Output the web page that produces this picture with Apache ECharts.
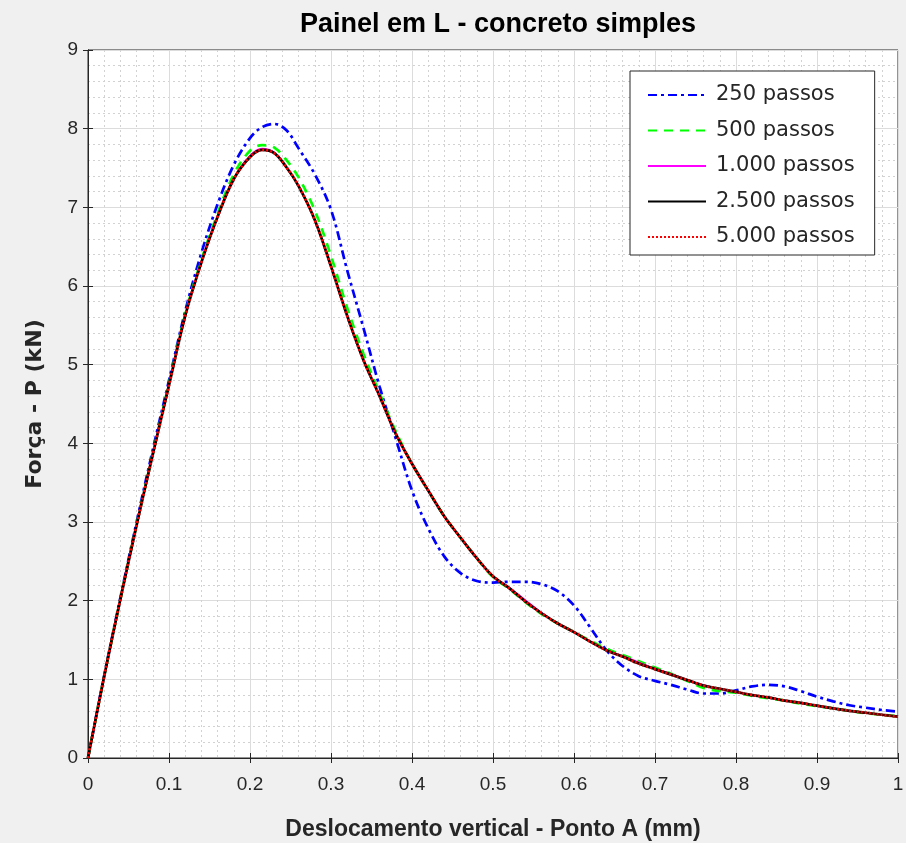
<!DOCTYPE html>
<html>
<head>
<meta charset="utf-8">
<script src="https://cdn.jsdelivr.net/npm/echarts@6/dist/echarts.min.js"></script>
<style>
html,body{margin:0;padding:0;background:#f0f0f0;overflow:hidden;}
#chart{width:906px;height:843px;}
</style>
</head>
<body>
<div id="chart"></div>
<script>
// Deslocamento (mm)
var xs = [0,0.02,0.04,0.06,0.08,0.10,0.12,0.14,0.16,0.18,0.20,0.215,0.23,0.245,0.26,0.28,0.30,0.32,0.34,0.36,0.38,0.40,0.42,0.44,0.46,0.48,0.50,0.52,0.54,0.56,0.58,0.60,0.62,0.64,0.66,0.68,0.70,0.72,0.74,0.76,0.78,0.80,0.82,0.84,0.86,0.88,0.90,0.92,0.94,0.96,0.98,1.00];
// Força (kN)
var p250  = [0,1.05,2.04,3.00,3.92,4.80,5.68,6.42,7.04,7.54,7.88,8.02,8.06,7.98,7.75,7.42,6.97,6.20,5.47,4.72,4.06,3.40,2.92,2.56,2.35,2.25,2.23,2.24,2.24,2.21,2.12,1.94,1.66,1.37,1.17,1.04,0.98,0.93,0.87,0.82,0.82,0.86,0.91,0.93,0.91,0.85,0.78,0.72,0.67,0.64,0.61,0.59];
var p500  = [0,1.04,2.02,2.97,3.87,4.76,5.64,6.33,6.92,7.42,7.72,7.79,7.76,7.60,7.38,6.96,6.38,5.72,5.14,4.64,4.15,3.74,3.40,3.07,2.80,2.54,2.30,2.15,1.98,1.83,1.71,1.60,1.49,1.39,1.31,1.23,1.15,1.07,0.98,0.89,0.85,0.83,0.79,0.76,0.73,0.69,0.66,0.63,0.60,0.57,0.55,0.53];
var p1000 = [0,1.04,2.02,2.96,3.86,4.74,5.62,6.30,6.88,7.37,7.66,7.75,7.70,7.51,7.27,6.84,6.25,5.62,5.06,4.60,4.12,3.74,3.40,3.07,2.80,2.54,2.31,2.17,2.01,1.85,1.71,1.60,1.48,1.37,1.30,1.22,1.14,1.07,0.99,0.93,0.88,0.84,0.80,0.77,0.73,0.70,0.665,0.63,0.60,0.575,0.55,0.525];
var p2500 = [0,1.04,2.02,2.96,3.86,4.74,5.62,6.30,6.88,7.36,7.64,7.73,7.69,7.51,7.27,6.84,6.25,5.62,5.06,4.60,4.12,3.74,3.40,3.07,2.80,2.54,2.31,2.16,1.99,1.84,1.71,1.60,1.48,1.37,1.29,1.20,1.13,1.06,0.99,0.92,0.88,0.84,0.80,0.77,0.73,0.70,0.665,0.63,0.60,0.575,0.55,0.525];
var p5000 = [0,1.04,2.02,2.96,3.86,4.74,5.62,6.30,6.88,7.36,7.64,7.73,7.69,7.51,7.27,6.84,6.25,5.62,5.06,4.60,4.12,3.74,3.40,3.07,2.80,2.54,2.31,2.16,1.99,1.84,1.71,1.60,1.48,1.37,1.29,1.20,1.13,1.06,0.99,0.92,0.88,0.84,0.80,0.77,0.73,0.70,0.665,0.63,0.60,0.575,0.55,0.525];
var seriesNames = ['250 passos','500 passos','1.000 passos','2.500 passos','5.000 passos'];
var xTicks = ['0','0.1','0.2','0.3','0.4','0.5','0.6','0.7','0.8','0.9','1'];
var yTicks = ['0','1','2','3','4','5','6','7','8','9'];

function pairs(ys){ return xs.map(function(x,i){ return [x, ys[i]]; }); }

var FONT = '"Liberation Sans", Arial, Helvetica, sans-serif';
var WIDE = '"DejaVu Sans", Verdana, sans-serif';
var chart = echarts.init(document.getElementById('chart'), null, {renderer:'canvas'});

var styles = [
  {color:'#0000ff', width:2.7, type:[9,4,3,4]},
  {color:'#00ff00', width:2.7, type:[9,7]},
  {color:'#ff00ff', width:1.2, type:'solid'},
  {color:'#000000', width:2.7, type:'solid'},
  {color:'#ff0000', width:2.7, type:[2,2]}
];
var dataSets = [p250,p500,p1000,p2500,p5000];

var series = dataSets.map(function(d,i){
  return {
    name: seriesNames[i],
    type: 'line',
    xAxisIndex: 0, yAxisIndex: 0,
    data: pairs(d),
    smooth: 0.35,
    symbol: 'none',
    showSymbol: false,
    animation: false,
    color: styles[i].color,
    lineStyle: {color: styles[i].color, width: styles[i].width, type: styles[i].type}
  };
});

var option = {
  backgroundColor: '#f0f0f0',
  animation: false,
  title: {
    text: 'Painel em L - concreto simples',
    left: 493, top: 6, textAlign: 'center',
    textStyle: {fontFamily: FONT, fontSize: 27, fontWeight: 'bold', color: '#000'}
  },
  legend: {
    orient: 'vertical',
    left: 630, top: 71,
    backgroundColor: '#ffffff',
    borderColor: '#262626', borderWidth: 1,
    padding: [12, 20, 6, 17],
    itemWidth: 58, itemHeight: 14, itemGap: 11.5,
    itemStyle: {opacity: 0},
    textStyle: {fontFamily: WIDE, fontSize: 21, color: '#262626', lineHeight: 24, padding: [0,0,0,5]},
    data: seriesNames
  },
  grid: {
    left: 88, right: 8, top: 50, bottom: 85,
    containLabel: false,
    outerBoundsMode: 'none',
    show: true, backgroundColor: '#ffffff', borderColor: '#262626', borderWidth: 1
  },
  xAxis: [{
    type: 'value', min: 0, max: 1, interval: 0.1, position: 'bottom',
    name: 'Deslocamento vertical - Ponto A (mm)', nameLocation: 'middle', nameGap: 60,
    nameTextStyle: {fontFamily: FONT, fontSize: 23, fontWeight: 'bold', color: '#262626'},
    axisLine: {show: true, lineStyle: {color: '#262626', width: 1}},
    axisTick: {show: true, inside: true, length: 5, lineStyle: {color: '#262626'}},
    axisLabel: {fontFamily: FONT, fontSize: 19, color: '#262626', margin: 17,
      formatter: function(v){ return xTicks[Math.round(v*10)]; }},
    splitLine: {show: true, lineStyle: {color: '#dcdcdc', width: 1}},
    minorTick: {show: false, splitNumber: 5},
    minorSplitLine: {show: true, lineStyle: {color: '#d2d2d2', width: 1, type: [2,3]}}
  },{
    type: 'value', min: 0, max: 1, interval: 0.1, position: 'top',
    axisLine: {show: true, lineStyle: {color: '#262626', width: 1}},
    axisTick: {show: true, inside: true, length: 5, lineStyle: {color: '#262626'}},
    axisLabel: {show: false}, splitLine: {show: false}
  }],
  yAxis: [{
    type: 'value', min: 0, max: 9, interval: 1, position: 'left',
    name: 'Força - P (kN)', nameLocation: 'middle', nameGap: 42,
    nameTextStyle: {fontFamily: WIDE, fontSize: 22, fontWeight: 'bold', color: '#262626'},
    axisLine: {show: true, lineStyle: {color: '#262626', width: 1}},
    axisTick: {show: true, inside: true, length: 5, lineStyle: {color: '#262626'}},
    axisLabel: {fontFamily: FONT, fontSize: 19, color: '#262626', margin: 10,
      formatter: function(v){ return yTicks[Math.round(v)]; }},
    splitLine: {show: true, lineStyle: {color: '#dcdcdc', width: 1}},
    minorTick: {show: false, splitNumber: 5},
    minorSplitLine: {show: true, lineStyle: {color: '#d2d2d2', width: 1, type: [2,3]}}
  },{
    type: 'value', min: 0, max: 9, interval: 1, position: 'right',
    axisLine: {show: true, lineStyle: {color: '#262626', width: 1}},
    axisTick: {show: true, inside: true, length: 5, lineStyle: {color: '#262626'}},
    axisLabel: {show: false}, splitLine: {show: false}
  }],
  series: series
};
chart.setOption(option);
</script>
</body>
</html>
